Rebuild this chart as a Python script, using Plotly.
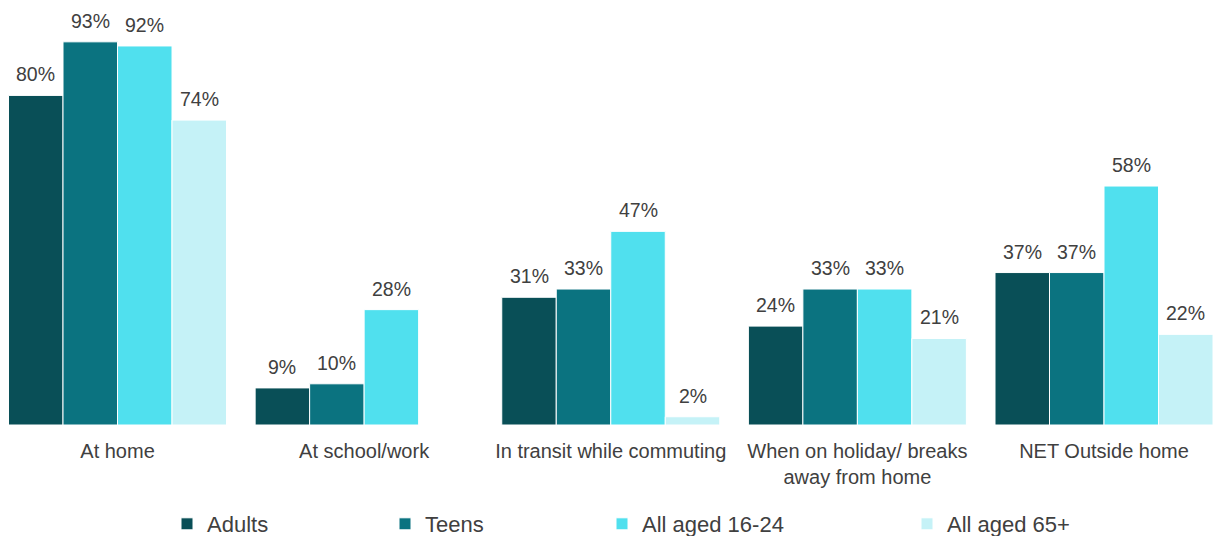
import plotly.graph_objects as go

categories = ["At home", "At school/work", "In transit while commuting",
              "When on holiday/ breaks<br>away from home", "NET Outside home"]
series_names = ["Adults", "Teens", "All aged 16-24", "All aged 65+"]
adults = [80, 9, 31, 24, 37]
teens = [93, 10, 33, 33, 37]
aged_16_24 = [92, 28, 47, 33, 58]
aged_65 = [74, None, 2, 21, 22]
colors = ["#094F57", "#0B7380", "#50E0EE", "#C5F2F7"]

all_series = [adults, teens, aged_16_24, aged_65]
FONT = "Liberation Sans, Arial, sans-serif"
TXT = "#404040"
bargap = 0.116
legend_text_px = [207, 425, 642, 947]
W, H = 1214, 536
MT, MB = 13, 111

fig = go.Figure()
legend_ids = ["legend", "legend2", "legend3", "legend4"]
for name, vals, col, lid in zip(series_names, all_series, colors, legend_ids):
    fig.add_trace(go.Bar(
        x=list(range(len(categories))), y=vals, name=name, legend=lid,
        marker=dict(color=col, line=dict(color="white", width=1)),
    ))

nser = len(all_series)
bw = (1 - bargap) / nser
annotations = []
for j, vals in enumerate(all_series):
    for i, v in enumerate(vals):
        if v is None:
            continue
        annotations.append(dict(
            x=i + (j - (nser - 1) / 2) * bw, y=v, xref="x", yref="y",
            text=f"{v}%", showarrow=False, yanchor="bottom", yshift=8,
            font=dict(family=FONT, size=19.5, color=TXT)))

legend_y = (H - 524) / H
layout_legends = {}
for lid, tx in zip(legend_ids, legend_text_px):
    layout_legends[lid] = dict(
        orientation="h", x=(tx - 40) / W, xanchor="left", xref="container",
        y=legend_y, yanchor="middle", yref="container",
        font=dict(family=FONT, size=22, color=TXT), itemwidth=30,
        bgcolor="rgba(0,0,0,0)")

fig.update_layout(
    width=W, height=H,
    margin=dict(l=0, r=0, t=MT, b=MB, autoexpand=False),
    paper_bgcolor="white", plot_bgcolor="white",
    barmode="group", bargap=bargap, bargroupgap=0,
    annotations=annotations,
    font=dict(family=FONT, size=18, color=TXT),
    showlegend=True,
    xaxis=dict(tickmode="array", tickvals=list(range(len(categories))), ticktext=categories,
               range=[-0.4765, 4.446], showgrid=False, zeroline=False, showline=False,
               ticks="", ticklabelstandoff=12, automargin=False,
               tickfont=dict(family=FONT, size=20, color=TXT)),
    yaxis=dict(range=[0, 100], visible=False, showgrid=False, zeroline=False,
               automargin=False),
    **layout_legends,
)

fig.write_html("out.html")
